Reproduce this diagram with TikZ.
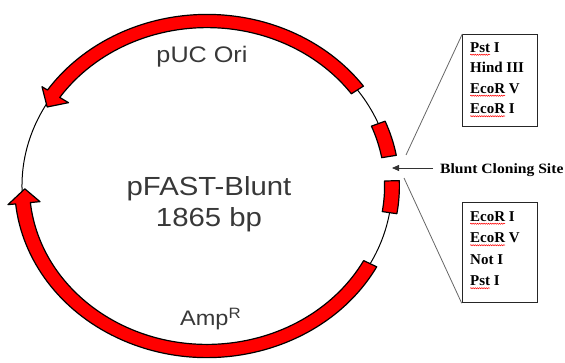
\documentclass[tikz,border=0pt]{standalone}
\usepackage{fontspec}
\usepackage{graphicx}
\usetikzlibrary{arrows.meta,decorations.pathmorphing}
\newfontfamily\sansf{Liberation Sans}
\newfontfamily\serf{Liberation Serif}
\definecolor{txtgray}{HTML}{383838}
\newlength\wavelen
\newcommand\redwave[1]{\settowidth\wavelen{#1}\rlap{\tikz[overlay,baseline=0pt]\draw[red, line width=0.5pt, decorate, decoration={snake, amplitude=0.6pt, segment length=2.2pt}] (0pt,-2.6pt) -- (\wavelen,-2.6pt);}#1}
\newcommand\wide[1]{\scalebox{1.12}[1]{#1}}
\begin{document}
\begin{tikzpicture}[x=1pt,y=1pt,
  feat/.style={fill=red, draw=black, line width=1.2pt, line join=round},
  lbl/.style={text=txtgray, inner sep=0pt, anchor=base},
  listtext/.style={font=\serf\bfseries\fontsize{15}{20.5}\selectfont, inner sep=0pt, anchor=north west, align=left},
  listbox/.style={draw=black!85, line width=0.9pt, minimum width=75pt, anchor=north west, inner sep=0pt},
  guide/.style={draw=black!60, line width=0.8pt}]
\useasboundingbox (0,0) rectangle (565,362);

\begin{scope}[shift={(207,176)}, xscale=1.1212]
  \draw[line width=1pt] (10.3:165) arc[start angle=10.3, end angle=361.8, radius=165];
  % pUC Ori arrow
  \path[feat] (35.6:171.6) arc[start angle=35.6, end angle=146, radius=171.6]
     -- (146:177.5) -- (151:163) -- (146:149) -- (146:158.4)
     arc[start angle=146, end angle=35.6, radius=158.4] -- cycle;
  % AmpR arrow
  \path[feat] (331.9:171.6) arc[start angle=331.9, end angle=186, radius=171.6]
     -- (186:178.5) -- (181:162.5) -- (186:149.8) -- (186:158.4)
     arc[start angle=186, end angle=331.9, radius=158.4] -- cycle;
  % cloning site blocks
  \path[feat] (10.3:158.4) -- (10.3:171.6) arc[start angle=10.3, end angle=22.2, radius=171.6]
     -- (22.2:158.4) arc[start angle=22.2, end angle=10.3, radius=158.4] -- cycle;
  \path[feat] (-9.3:158.4) -- (-9.3:171.6) arc[start angle=-9.3, end angle=1.8, radius=171.6]
     -- (1.8:158.4) arc[start angle=1.8, end angle=-9.3, radius=158.4] -- cycle;
\end{scope}

\node[lbl, font=\sansf\fontsize{26.2}{26.2}\selectfont] (title) at (209,167) {\wide{pFAST-Blunt}};
\node[lbl, font=\sansf\fontsize{26.2}{26.2}\selectfont] (size) at (209,135.5) {\wide{1865 bp}};
\node[lbl, font=\sansf\fontsize{22.5}{22.5}\selectfont] (ori) at (202,299) {\wide{pUC Ori}};
\node[lbl, anchor=base west, font=\sansf\fontsize{21}{21}\selectfont] (amp) at (180,37)
  {\wide{Amp\raisebox{7pt}{\fontsize{15}{15}\selectfont R}}};

\node[listbox, minimum height=92pt] (box1) at (462.3,328) {};
\node[listbox, minimum height=100.6pt] (box2) at (461.7,160.3) {};
\node[listtext] (list1) at (470,319.9)
  {\redwave{Pst} I\\Hind III\\\redwave{EcoR} V\\\redwave{EcoR} I};
\node[listtext, font=\serf\bfseries\fontsize{15}{21.5}\selectfont] (list2) at (470,150.9)
  {\redwave{EcoR} I\\\redwave{EcoR} V\\Not I\\\redwave{Pst} I};

\coordinate (gapU) at (406,207);
\coordinate (gapL) at (404,184);
\coordinate (tip) at (392,194);
\draw[guide] (gapU) -- (box1.north west);
\draw[guide] (gapL) -- (box2.south west);

\node[inner xsep=7pt, inner ysep=0pt, anchor=base west, font=\serf\bfseries\fontsize{14.2}{14.2}\selectfont] (blunt) at (433,189) {\scalebox{1.1}[1]{Blunt Cloning Site}};
\draw[-{Triangle[length=7pt,width=6pt]}, draw=black!80, line width=0.8pt] (blunt.west |- tip) -- (tip);
\end{tikzpicture}
\end{document}
